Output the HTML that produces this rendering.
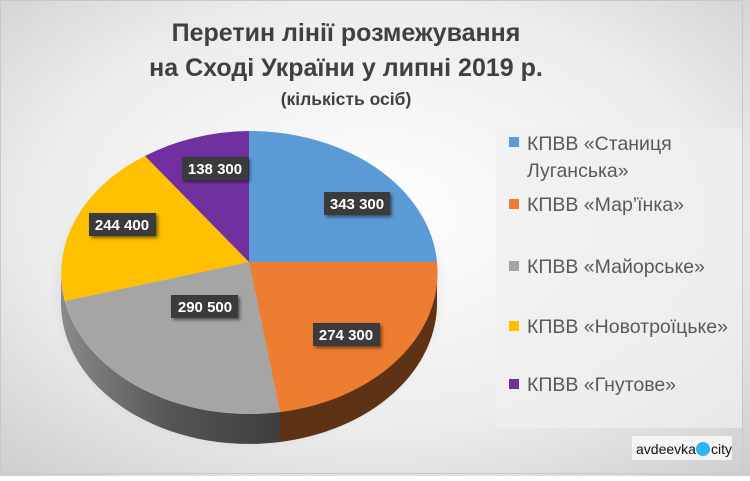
<!DOCTYPE html>
<html><head><meta charset="utf-8"><style>
body{margin:0;width:750px;height:476px;overflow:hidden;font-family:"Liberation Sans",sans-serif}
</style></head><body>
<svg width="750" height="476" viewBox="0 0 750 476" xmlns="http://www.w3.org/2000/svg">
<defs>
<radialGradient id="bg" cx="0.5" cy="0.45" r="0.75">
<stop offset="0" stop-color="#ffffff"/><stop offset="0.6" stop-color="#ececec"/><stop offset="1" stop-color="#cdcdcd"/>
</radialGradient>
<linearGradient id="gs" x1="0" x2="1"><stop offset="0" stop-color="#8a8a8a"/><stop offset="0.5" stop-color="#555"/><stop offset="1" stop-color="#3e3e3e"/></linearGradient>
<radialGradient id="sh" cx="0.5" cy="0.5" r="0.5"><stop offset="0.7" stop-color="#000" stop-opacity="0.18"/><stop offset="1" stop-color="#000" stop-opacity="0"/></radialGradient>
<filter id="ds" x="-20%" y="-30%" width="140%" height="160%"><feDropShadow dx="2" dy="2" stdDeviation="1.5" flood-opacity="0.5"/></filter>
</defs>
<rect width="750" height="476" fill="url(#bg)"/>
<rect x="0.5" y="0.5" width="742" height="473" fill="none" stroke="#c8c8c8"/>
<rect x="496" y="128" width="246" height="300" fill="#f0f0f0" opacity="0.7"/>
<ellipse cx="249" cy="290" rx="200" ry="160" fill="url(#sh)"/>
<path d="M61,272 A188,141 0 0 0 280,412 L280,442 A188,141 0 0 1 61,302 Z" fill="url(#gs)"/>
<path d="M280,412 A188,141 0 0 0 437,272 L437,300 A188,141 0 0 1 280,442 Z" fill="#5e3214"/>
<path d="M249,262 L249,131 A188,141 0 0 1 437,262 Z" fill="#5b9bd5"/>
<path d="M249,262 L437,262 A188,141 0 0 1 280,412 Z" fill="#ed7d31"/>
<path d="M249,262 L280,412 A188,141 0 0 1 65,301 Z" fill="#a5a5a5"/>
<path d="M249,262 L65,301 A188,141 0 0 1 145,156 Z" fill="#ffc000"/>
<path d="M249,262 L145,156 A188,141 0 0 1 249,131 Z" fill="#7030a0"/>
<g font-weight="bold" font-size="15" fill="#fff" text-anchor="middle">
<g filter="url(#ds)">
<rect x="182" y="157" width="66" height="23" fill="#3a3a3a"/>
<rect x="324" y="192" width="66" height="23" fill="#3a3a3a"/>
<rect x="89" y="213" width="67" height="23" fill="#3a3a3a"/>
<rect x="171" y="295" width="67" height="23" fill="#3a3a3a"/>
<rect x="313" y="323" width="67" height="23" fill="#3a3a3a"/>
</g>
<text x="215" y="174">138 300</text>
<text x="357" y="209">343 300</text>
<text x="122" y="230">244 400</text>
<text x="205" y="312">290 500</text>
<text x="346" y="340">274 300</text>
</g>
<g font-weight="bold" fill="#404040" text-anchor="middle">
<text x="346" y="41" font-size="25">Перетин лінії розмежування</text>
<text x="346" y="76" font-size="25">на Сході України у липні 2019 р.</text>
<text x="346" y="105" font-size="17.5">(кількість осіб)</text>
</g>
<g font-size="19.5" fill="#595959">
<rect x="509" y="137" width="10" height="10" fill="#5b9bd5"/>
<text x="527" y="150">КПВВ «Станиця</text>
<text x="527" y="177">Луганська»</text>
<rect x="509" y="199" width="10" height="10" fill="#ed7d31"/>
<text x="527" y="211">КПВВ «Мар’їнка»</text>
<rect x="509" y="261" width="10" height="10" fill="#a5a5a5"/>
<text x="527" y="273">КПВВ «Майорське»</text>
<rect x="509" y="321" width="10" height="10" fill="#ffc000"/>
<text x="527" y="333">КПВВ «Новотроїцьке»</text>
<rect x="509" y="379" width="10" height="10" fill="#7030a0"/>
<text x="527" y="391">КПВВ «Гнутове»</text>
</g>
<rect x="632" y="436" width="100" height="24" fill="#f4f4f4"/>
<text x="636" y="454" font-size="14" fill="#111">avdeevka</text>
<circle cx="703" cy="449" r="7" fill="#29b6f6"/>
<text x="711" y="454" font-size="14" fill="#111">city</text>
</svg>
</body></html>
